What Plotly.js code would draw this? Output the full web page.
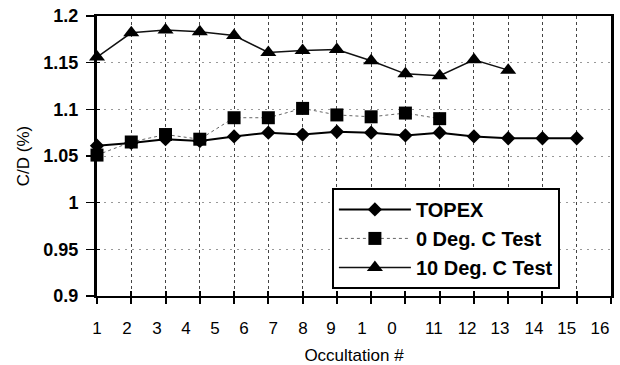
<!DOCTYPE html>
<html>
<head>
<meta charset="utf-8">
<script src="https://cdn.plot.ly/plotly-3.0.1.min.js"></script>
<style>html,body{margin:0;padding:0;background:#fff;}#chart{width:620px;height:365px;}</style>
</head>
<body>
<div id="chart"></div>
<script>
// ---- data ----
var occultation = [1,2,3,4,5,6,7,8,9,10,11,12,13,14,15,16];
var topex  = [1.061,1.064,1.068,1.066,1.071,1.075,1.073,1.076,1.075,1.072,1.075,1.071,1.069,1.069,1.069];
var deg0   = [1.051,1.065,1.073,1.068,1.091,1.091,1.101,1.094,1.092,1.096,1.090];
var deg10  = [1.156,1.182,1.185,1.183,1.179,1.161,1.163,1.164,1.152,1.138,1.136,1.153,1.142];
var seriesNames = ["TOPEX", "0 Deg. C Test", "10 Deg. C Test"];
var xTickText = ["1","2","3","4","5","6","7","8","9","1","0","11","12","13","14","15","16"];
var yTickVals = [0.9,0.95,1,1.05,1.1,1.15,1.2];
var yTickText = ["0.9","0.95","1","1.05","1.1","1.15","1.2"];

// ---- layout helpers ----
var xLabelPos = [1.0,1.875,2.75,3.6,4.44,5.29,6.14,7.01,7.83,8.73,9.61,10.83,11.8,12.76,13.75,14.71,15.68];
var FONT = "Liberation Sans, Arial, sans-serif";

var traces = [
  {x: occultation.slice(0, topex.length), y: topex, name: seriesNames[0], type: "scatter", mode: "lines+markers",
   line: {color: "#000", width: 2}, marker: {symbol: "diamond", size: 11, color: "#000"}, cliponaxis: false},
  {x: occultation.slice(0, deg0.length), y: deg0, name: seriesNames[1], type: "scatter", mode: "lines+markers",
   line: {color: "#666", width: 1, dash: "dot"}, marker: {symbol: "square", size: 13, color: "#000"}, cliponaxis: false},
  {x: occultation.slice(0, deg10.length), y: deg10, name: seriesNames[2], type: "scatter", mode: "lines+markers",
   line: {color: "#111", width: 1.5}, marker: {symbol: "triangle-up", size: 14, color: "#000"}, cliponaxis: false},
  {x: [], y: [], xaxis: "x2", yaxis: "y2", showlegend: false, hoverinfo: "skip", type: "scatter"},
  {x: [], y: [], xaxis: "x3", yaxis: "y", showlegend: false, hoverinfo: "skip", type: "scatter"}
];

var layout = {
  width: 620, height: 365,
  margin: {l: 97, r: 9, t: 16, b: 69},
  paper_bgcolor: "#fff", plot_bgcolor: "#fff",
  font: {family: FONT, color: "#000"},
  showlegend: true,
  legend: {
    x: 0.457, y: 0.386, xanchor: "left", yanchor: "top",
    bgcolor: "#fff", bordercolor: "#000", borderwidth: 2,
    font: {family: FONT, size: 20, color: "#000", weight: "bold"},
    itemwidth: 72, tracegroupgap: 0
  },
  xaxis: {
    range: [1, 16], tickvals: occultation, showticklabels: false,
    ticks: "outside", ticklen: 6, tickwidth: 2, tickcolor: "#000",
    showline: true, linecolor: "#000", linewidth: 2, mirror: true,
    showgrid: true, gridcolor: "#444", gridwidth: 1, griddash: "dot",
    zeroline: false, layer: "below traces",
    title: {text: "Occultation #", font: {family: FONT, size: 17, color: "#000"}, standoff: 46}
  },
  xaxis2: {
    overlaying: "x", anchor: "y", range: [1, 16], tickvals: occultation, showticklabels: false,
    ticks: "inside", ticklen: 5, tickwidth: 2, tickcolor: "#000",
    showline: false, showgrid: false, zeroline: false
  },
  xaxis3: {
    overlaying: "x", anchor: "y", side: "bottom", range: [1, 16],
    tickmode: "array", tickvals: xLabelPos, ticktext: xTickText, ticks: "",
    ticklabelstandoff: 20,
    tickfont: {family: FONT, size: 17, color: "#000"},
    showline: false, showgrid: false, zeroline: false
  },
  yaxis: {
    range: [0.9, 1.2], tickmode: "array", tickvals: yTickVals, ticktext: yTickText,
    ticks: "outside", ticklen: 8, tickwidth: 1.5, tickcolor: "#000", ticklabelstandoff: 4,
    tickfont: {family: FONT, size: 18, color: "#000", weight: "bold"},
    showline: true, linecolor: "#000", linewidth: 3, mirror: true,
    showgrid: true, gridcolor: "#999", gridwidth: 1, griddash: "2px,5px",
    zeroline: false, layer: "below traces",
    title: {text: "C/D (%)", font: {family: FONT, size: 17, color: "#000"}, standoff: 10}
  },
  yaxis2: {
    overlaying: "y", anchor: "x", range: [0.9, 1.2], tickvals: yTickVals, showticklabels: false,
    ticks: "inside", ticklen: 3, tickwidth: 1.5, tickcolor: "#000",
    showline: false, showgrid: false, zeroline: false
  }
};

Plotly.newPlot("chart", traces, layout, {displayModeBar: false, staticPlot: true});
</script>
</body>
</html>
